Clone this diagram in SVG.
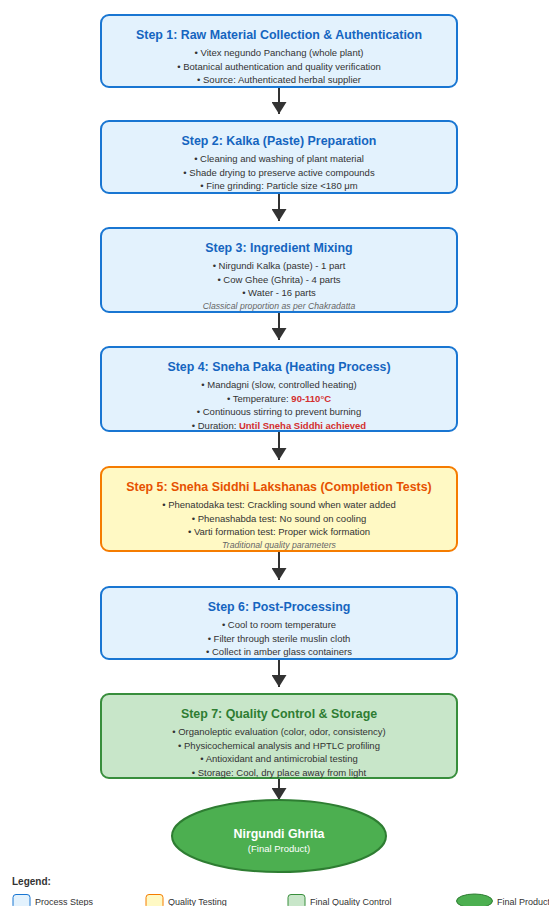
<svg xmlns="http://www.w3.org/2000/svg" width="549" height="906" viewBox="0 0 549 906">
<defs>
<marker id="ah" viewBox="0 0 12 15" refX="12" refY="7.5" markerWidth="12" markerHeight="15" markerUnits="userSpaceOnUse" orient="auto"><path d="M0,0 L12,7.5 L0,15 Z" fill="#333"/></marker>
<style>
text{font-family:"Liberation Sans",Arial,sans-serif;text-anchor:middle}
.pb{fill:#e3f2fd;stroke:#1976d2;stroke-width:2}
.qb{fill:#fff9c4;stroke:#f57c00;stroke-width:2}
.gb{fill:#c8e6c9;stroke:#388e3c;stroke-width:2}
.t{font-size:12.4px;font-weight:bold}
.tp{fill:#1565c0}.tq{fill:#e65100}.tg{fill:#2e7d32}
.b{font-size:9.5px;fill:#333}
.i{font-size:8.7px;fill:#666;font-style:italic}
.r{fill:#d32f2f;font-weight:bold}
.c{stroke:#333;stroke-width:2;fill:none;marker-end:url(#ah)}
.lg{font-size:9px;fill:#333;text-anchor:start}
.lh{font-size:10px;font-weight:bold;fill:#333;text-anchor:start}
.lr{stroke-width:1}
</style>
</defs>
<g id="connectors">
<line class="c" x1="279" y1="87" x2="279" y2="114"/>
<line class="c" x1="279" y1="193" x2="279" y2="221"/>
<line class="c" x1="279" y1="312" x2="279" y2="340"/>
<line class="c" x1="279" y1="431" x2="279" y2="460"/>
<line class="c" x1="279" y1="551" x2="279" y2="580"/>
<line class="c" x1="279" y1="659" x2="279" y2="687"/>
<line class="c" x1="279" y1="778" x2="279" y2="800"/>
</g>
<g id="step1">
<rect class="pb" x="101" y="15" width="356" height="72" rx="8"/>
<text class="t tp" x="279" y="38.5">Step 1: Raw Material Collection &amp; Authentication</text>
<text class="b" x="279" y="56">• Vitex negundo Panchang (whole plant)</text>
<text class="b" x="279" y="69.5">• Botanical authentication and quality verification</text>
<text class="b" x="279" y="83">• Source: Authenticated herbal supplier</text>
</g>
<g id="step2">
<rect class="pb" x="101" y="121" width="356" height="72" rx="8"/>
<text class="t tp" x="279" y="144.5">Step 2: Kalka (Paste) Preparation</text>
<text class="b" x="279" y="162">• Cleaning and washing of plant material</text>
<text class="b" x="279" y="175.5">• Shade drying to preserve active compounds</text>
<text class="b" x="279" y="189">• Fine grinding: Particle size &lt;180 μm</text>
</g>
<g id="step3">
<rect class="pb" x="101" y="228" width="356" height="84" rx="8"/>
<text class="t tp" x="279" y="251.5">Step 3: Ingredient Mixing</text>
<text class="b" x="279" y="269">• Nirgundi Kalka (paste) - 1 part</text>
<text class="b" x="279" y="282.5">• Cow Ghee (Ghrita) - 4 parts</text>
<text class="b" x="279" y="296">• Water - 16 parts</text>
<text class="i" x="279" y="308.5">Classical proportion as per Chakradatta</text>
</g>
<g id="step4">
<rect class="pb" x="101" y="347" width="356" height="84" rx="8"/>
<text class="t tp" x="279" y="370.5">Step 4: Sneha Paka (Heating Process)</text>
<text class="b" x="279" y="388">• Mandagni (slow, controlled heating)</text>
<text class="b" x="279" y="401.5">• Temperature: <tspan class="r">90-110°C</tspan></text>
<text class="b" x="279" y="415">• Continuous stirring to prevent burning</text>
<text class="b" x="279" y="428.5">• Duration: <tspan class="r">Until Sneha Siddhi achieved</tspan></text>
</g>
<g id="step5">
<rect class="qb" x="101" y="467" width="356" height="84" rx="8"/>
<text class="t tq" x="279" y="490.5">Step 5: Sneha Siddhi Lakshanas (Completion Tests)</text>
<text class="b" x="279" y="508">• Phenatodaka test: Crackling sound when water added</text>
<text class="b" x="279" y="521.5">• Phenashabda test: No sound on cooling</text>
<text class="b" x="279" y="535">• Varti formation test: Proper wick formation</text>
<text class="i" x="279" y="547.5">Traditional quality parameters</text>
</g>
<g id="step6">
<rect class="pb" x="101" y="587" width="356" height="72" rx="8"/>
<text class="t tp" x="279" y="610.5">Step 6: Post-Processing</text>
<text class="b" x="279" y="628">• Cool to room temperature</text>
<text class="b" x="279" y="641.5">• Filter through sterile muslin cloth</text>
<text class="b" x="279" y="655">• Collect in amber glass containers</text>
</g>
<g id="step7">
<rect class="gb" x="101" y="694" width="356" height="84" rx="8"/>
<text class="t tg" x="279" y="717.5">Step 7: Quality Control &amp; Storage</text>
<text class="b" x="279" y="735">• Organoleptic evaluation (color, odor, consistency)</text>
<text class="b" x="279" y="748.5">• Physicochemical analysis and HPTLC profiling</text>
<text class="b" x="279" y="762">• Antioxidant and antimicrobial testing</text>
<text class="b" x="279" y="775.5">• Storage: Cool, dry place away from light</text>
</g>
<g id="final">
<ellipse cx="279" cy="836" rx="107" ry="36" fill="#4caf50" stroke="#2e7d32" stroke-width="2"/>
<text class="t" x="279" y="837.5" fill="#fff">Nirgundi Ghrita</text>
<text x="279" y="851.5" font-size="9.5px" fill="#fff">(Final Product)</text>
</g>
<g id="legend">
<text class="lh" x="12" y="885">Legend:</text>
<rect class="pb lr" x="13" y="894.5" width="17" height="14" rx="3"/>
<text class="lg" x="35" y="904.5">Process Steps</text>
<rect class="qb lr" x="146" y="894.5" width="17" height="14" rx="3"/>
<text class="lg" x="168" y="904.5">Quality Testing</text>
<rect class="gb lr" x="288" y="894.5" width="17" height="14" rx="3"/>
<text class="lg" x="310" y="904.5">Final Quality Control</text>
<ellipse cx="474.5" cy="901" rx="18" ry="7" fill="#4caf50" stroke="#2e7d32" stroke-width="1"/>
<text class="lg" x="497" y="904.5">Final Product</text>
</g>
</svg>
